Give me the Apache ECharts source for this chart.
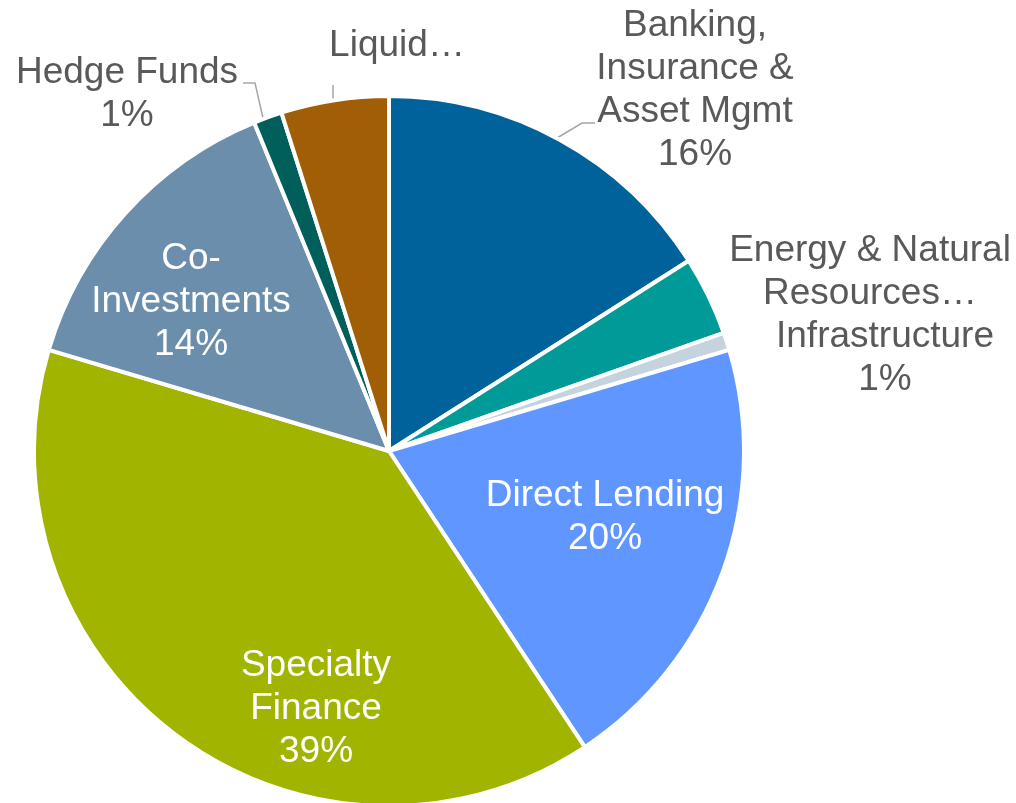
<!DOCTYPE html>
<html>
<head>
<meta charset="utf-8">
<script src="https://cdn.jsdelivr.net/npm/echarts@6/dist/echarts.min.js"></script>
<style>
  html, body { margin: 0; padding: 0; background: #fff; }
  #chart { width: 1016px; height: 803px; }
</style>
</head>
<body>
<div id="chart"></div>
<script>
// slice names (clockwise from 12 o'clock)
const names = ['Banking, Insurance & Asset Mgmt', 'Energy & Natural Resources', 'Infrastructure',
  'Direct Lending', 'Specialty Finance', 'Co-Investments', 'Hedge Funds', 'Liquid'];
// share of allocation, %
const values = [16.0, 3.6, 0.8, 20.3, 38.9, 14.2, 1.3, 4.9];
// text shown on the chart (truncated as in the source)
const labelTexts = ['Banking,\nInsurance &\nAsset Mgmt', 'Energy & Natural\nResources…', 'Infrastructure',
  'Direct Lending', 'Specialty\nFinance', 'Co-\nInvestments', 'Hedge Funds', 'Liquid…'];
const showPercent = [true, false, true, true, true, true, true, false];

const colors = ['#00629B', '#009B98', '#C5D3DE', '#6096FF', '#A0B400', '#6A8EAC', '#005F5A', '#A05F07'];
const insideLabel = [false, false, false, true, true, true, false, false];
// label centres and guide lines (layout only)
const labelPos = [[695, 90], [870, 272], [885, 358], [605, 517], [316, 709], [191, 302], [127, 94], [397, 46]];
const guideLines = {
  0: [[557, 138], [582, 123], [595, 123]],
  6: [[263, 118], [255, 83], [243, 83]],
  7: [[333, 101], [333, 85], [333, 85]]
};

const chart = echarts.init(document.getElementById('chart'));

chart.setOption({
  animation: false,
  series: [{
    type: 'pie',
    center: [389, 451],
    radius: 355,
    startAngle: 90,
    clockwise: true,
    avoidLabelOverlap: false,
    itemStyle: { borderColor: '#fff', borderWidth: 4 },
    label: {
      fontFamily: 'Liberation Sans, Arial, sans-serif',
      fontSize: 37,
      lineHeight: 43,
      color: '#595959',
      align: 'center',
      formatter: p => labelTexts[p.dataIndex] +
        (showPercent[p.dataIndex] ? '\n' + Math.round(p.percent) + '%' : '')
    },
    labelLine: { show: false, lineStyle: { color: '#A6A6A6', width: 1.5 } },
    labelLayout: p => {
      const i = p.dataIndex;
      const o = { x: labelPos[i][0], y: labelPos[i][1], align: 'center', verticalAlign: 'middle' };
      if (guideLines[i]) o.labelLinePoints = guideLines[i];
      return o;
    },
    data: names.map((n, i) => ({
      name: n,
      value: values[i],
      itemStyle: { color: colors[i] },
      label: insideLabel[i] ? { position: 'inside', color: '#fff' } : { position: 'outside' },
      labelLine: { show: !!guideLines[i] }
    }))
  }]
});
</script>
</body>
</html>
